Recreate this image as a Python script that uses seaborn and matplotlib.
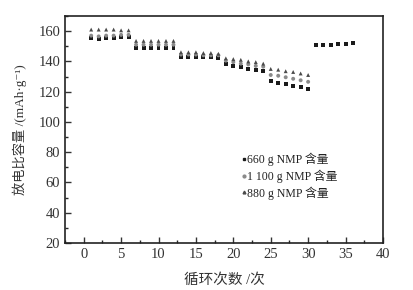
import numpy as np
import pandas as pd
import matplotlib
matplotlib.use("Agg")
import matplotlib.pyplot as plt
import seaborn as sns
from matplotlib.ticker import MultipleLocator
from matplotlib.lines import Line2D

# cycle numbers and discharge capacity (mAh/g) per NMP amount
cycles = list(range(1, 37))
nan = np.nan
cap_660 = [155.5, 154.5, 155.5, 155.5, 156, 156,
           149, 149, 149, 149, 149, 149,
           143, 143, 143, 143, 143, 142.5,
           138, 137, 136, 135, 134, 133.5,
           127, 126, 125, 124, 123, 122,
           151, 151, 151, 151.5, 151.5, 152]
cap_1100 = [157, 156.5, 157, 157, 157.5, 157.5,
            151, 151, 151, 151, 151, 151,
            144.5, 144.5, 144.5, 144, 144, 144,
            140.5, 139.5, 138.5, 138, 137, 136.5,
            131, 130.5, 129.5, 128.5, 127.5, 126.5,
            nan, nan, nan, nan, nan, nan]
cap_880 = [161, 161, 161, 161, 160.5, 160.5,
           153.5, 153.5, 153.5, 153.5, 153.5, 153.5,
           146, 146, 146, 145.5, 145.5, 145,
           142, 141.5, 141, 140, 139.5, 138.5,
           135, 134.5, 133.5, 133, 132, 131,
           nan, nan, nan, nan, nan, nan]
labels = ["660 g NMP 含量", "1 100 g NMP 含量", "880 g NMP 含量"]

df = pd.concat([
    pd.DataFrame({"cycle": cycles, "cap": cap_660, "group": labels[0]}),
    pd.DataFrame({"cycle": cycles, "cap": cap_1100, "group": labels[1]}),
    pd.DataFrame({"cycle": cycles, "cap": cap_880, "group": labels[2]}),
]).dropna()

sns.set_style("ticks")
fonts = ["Liberation Serif", "Noto Sans CJK SC", "DejaVu Sans"]
plt.rcParams["font.family"] = fonts
plt.rcParams["axes.unicode_minus"] = False

fig = plt.figure(figsize=(4.14, 2.90), dpi=100)
ax = fig.add_axes([0.157, 0.162, 0.768, 0.783])

palette = {labels[0]: "#1a1a1a", labels[1]: "#8a8a8a", labels[2]: "#4a4a4a"}
markers = {labels[0]: "s", labels[1]: "o", labels[2]: "^"}
sns.scatterplot(data=df, x="cycle", y="cap", hue="group", style="group",
                palette=palette, markers=markers, s=8, linewidth=0,
                ax=ax, legend=False)

ax.set_xlim(-2.5, 40)
ax.set_ylim(20, 170)
ax.xaxis.set_major_locator(MultipleLocator(5))
ax.xaxis.set_minor_locator(MultipleLocator(2.5))
ax.yaxis.set_major_locator(MultipleLocator(20))
ax.yaxis.set_minor_locator(MultipleLocator(10))
ax.tick_params(which="major", direction="in", length=4, width=1, labelsize=10.5,
               colors="#333333", labelcolor="#333333", top=False, right=False)
ax.tick_params(which="minor", direction="in", length=2, width=1, top=False, right=False)
for s in ax.spines.values():
    s.set_visible(True)
    s.set_linewidth(1.2)
    s.set_color("#222222")

ax.set_xlabel("循环次数 /次", fontsize=10.5, color="#333333", labelpad=9)
ax.set_ylabel("放电比容量 /(mAh·g⁻¹)", fontsize=9.5, color="#333333", labelpad=8)

# legend with tiny markers
handles = [Line2D([], [], linestyle="none", marker=markers[l], color=palette[l],
                  markersize=2.0) for l in labels]
ax.legend(handles, labels, loc="upper left", bbox_to_anchor=(0.54, 0.425),
          frameon=False, handlelength=0.3, handletextpad=0.1, labelspacing=0.3,
          borderpad=0, prop={"family": fonts, "size": 8.5}, labelcolor="#222222")

fig.savefig("out.png", dpi=100)
